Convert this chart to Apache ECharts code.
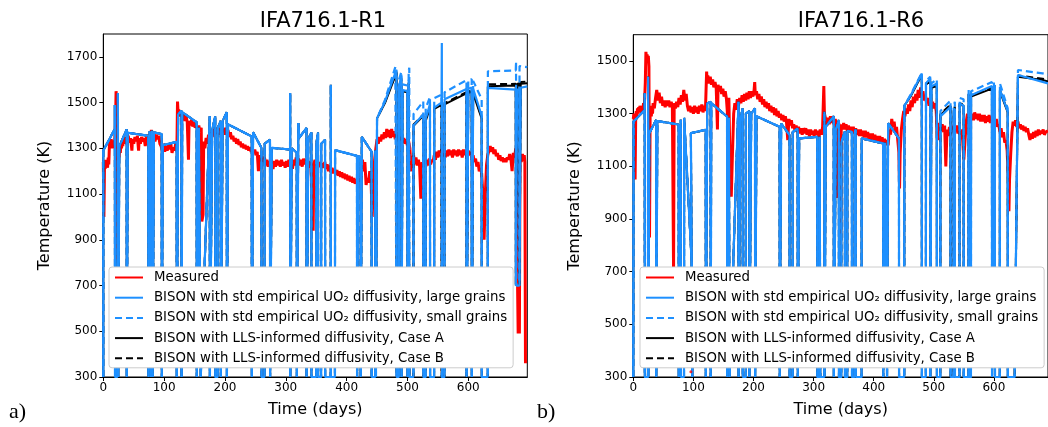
<!DOCTYPE html>
<html>
<head>
<meta charset="utf-8">
<script src="https://cdn.jsdelivr.net/npm/echarts@6/dist/echarts.min.js"></script>
<style>html,body{margin:0;padding:0;background:#fff}#c{width:1048px;height:427px}</style>
</head>
<body>
<div id="c"></div>
<script>
// ---------- tick labels ----------
const xTicks = [0,100,200,300,400,500,600];
const yTicksL = [300,500,700,900,1100,1300,1500,1700];
const yTicksR = [300,500,700,900,1100,1300,1500];
const titles = ['IFA716.1-R1','IFA716.1-R6'];
const names = ['Measured','BISON with std empirical UO\u2082 diffusivity, large grains','BISON with std empirical UO\u2082 diffusivity, small grains','BISON with LLS-informed diffusivity, Case A','BISON with LLS-informed diffusivity, Case B'];

// ---------- R1 measured [day, K] ----------
const measR1 = [[0,1240],[1,1000],[2,1230],[3,1210],[4,1250],[5,1220],[6,1245],[7,1215],[8,1260],[9,1230],[10,1310],[11,1330],[12,1300],[13,1340],[14,1310],[15,1330],[16,1300],[17,1335],[18,1320],[19,1340],[20,1400],[21,1550],[22,1500],[23,1540],[24,800],[25,1290],[26,1260],[27,1310],[28,1280],[29,1320],[30,1300],[31,1330],[32,1310],[33,1345],[35,1320],[37,1350],[39,1330],[41,1355],[43,1325],[45,1345],[47,1290],[48,1340],[50,1320],[52,1350],[54,1330],[56,1355],[58,1290],[59,1345],[61,1320],[63,1350],[65,1330],[67,1345],[69,1310],[71,1350],[73,1335],[75,1360],[77,1340],[79,1380],[81,1350],[83,1370],[85,1330],[87,1360],[89,1340],[91,1355],[93,1320],[95,1310],[97,1290],[99,1320],[101,1285],[103,1310],[105,1290],[107,1315],[109,1295],[111,1320],[113,1280],[115,1305],[117,1290],[119,1320],[121,1300],[122,1505],[123,1450],[124,1470],[126,1440],[128,1460],[130,1430],[132,1450],[134,1420],[136,1440],[138,1415],[140,1250],[141,1420],[143,1400],[145,1425],[147,1395],[149,1415],[151,1390],[153,1405],[155,1380],[157,1400],[159,1370],[161,1390],[162,980],[164,1010],[165,1330],[167,1300],[169,1345],[171,1320],[173,1360],[175,1340],[177,1370],[179,1350],[181,1385],[183,1360],[185,1390],[187,1365],[189,1385],[191,1360],[193,1390],[195,1365],[197,1385],[199,1360],[201,1390],[203,1365],[205,1380],[207,1350],[209,1370],[211,1340],[213,1355],[215,1330],[217,1345],[219,1320],[221,1340],[223,1315],[225,1330],[227,1305],[229,1320],[231,1300],[233,1315],[235,1295],[237,1310],[239,1290],[241,1305],[243,1285],[245,1300],[247,1280],[249,1295],[251,1270],[253,1285],[255,1200],[257,1270],[259,1245],[261,1265],[263,1240],[265,1260],[267,1225],[269,1250],[271,1220],[273,1245],[275,1215],[277,1240],[279,1210],[281,1245],[283,1220],[285,1250],[287,1225],[289,1245],[291,1220],[293,1250],[295,1225],[297,1240],[299,1215],[301,1245],[303,1220],[305,1250],[307,1225],[309,1245],[311,1210],[313,1250],[315,1225],[317,1260],[319,1230],[321,1255],[323,1225],[325,1250],[327,1220],[329,1255],[331,1230],[333,1250],[335,1220],[337,1245],[339,1215],[341,1240],[343,1100],[345,940],[346,1230],[348,1250],[350,1225],[352,1245],[354,1220],[356,1240],[358,1215],[360,1235],[362,1215],[364,1240],[366,1210],[368,1230],[370,1200],[372,1225],[374,1195],[376,1215],[378,1190],[380,1210],[382,1185],[384,1205],[386,1180],[388,1200],[390,1175],[392,1195],[394,1170],[396,1190],[398,1165],[400,1185],[402,1160],[404,1180],[406,1155],[408,1175],[410,1150],[412,1170],[414,1145],[416,1165],[418,1140],[420,1170],[422,1150],[424,1180],[426,1250],[428,1200],[430,1240],[432,1140],[434,1170],[436,1150],[438,1200],[440,1170],[442,1000],[444,1150],[446,1250],[448,1300],[450,1340],[452,1320],[454,1350],[456,1330],[458,1360],[460,1340],[462,1370],[464,1345],[466,1385],[468,1350],[470,1380],[472,1345],[474,1385],[476,1350],[478,1375],[480,1340],[482,1370],[484,1335],[486,1360],[488,1330],[490,1355],[492,1325],[494,1345],[496,1320],[498,1340],[500,1310],[502,1330],[504,1300],[506,1200],[508,1240],[510,1270],[512,1230],[514,1260],[516,1225],[518,1250],[520,1220],[522,1080],[524,1240],[526,1215],[528,1245],[530,1220],[532,1250],[534,1225],[536,1255],[538,1230],[540,1250],[542,1240],[544,1270],[546,1250],[548,1285],[550,1260],[552,1290],[554,1265],[556,1295],[558,1270],[560,1290],[562,1260],[564,1290],[566,1265],[568,1295],[570,1270],[572,1290],[574,1260],[576,1295],[578,1270],[580,1290],[582,1265],[584,1295],[586,1270],[588,1290],[590,1260],[592,1295],[594,1270],[596,1290],[598,1265],[600,1290],[602,1270],[604,1285],[606,1250],[608,1270],[610,1240],[612,1255],[614,1220],[616,1240],[618,1200],[620,1215],[622,1190],[624,1100],[626,900],[628,1100],[630,1230],[632,1270],[634,1290],[636,1310],[638,1285],[640,1305],[642,1275],[644,1295],[646,1265],[648,1280],[650,1250],[652,1270],[654,1245],[656,1260],[658,1240],[660,1255],[662,1240],[664,1260],[666,1250],[668,1275],[670,1255],[672,1200],[674,1280],[676,1260],[678,1300],[680,1270],[681,700],[682,490],[683,700],[684,490],[685,1270],[687,1240],[689,1275],[691,1245],[692,1270],[693,1240],[694,360]];

// ---------- R1 BISON (shared early history, then per-model late history) ----------
const bisonR1Early = [[0,300],[0,1290],[19,1385],[19,1490],[19.3,300],[23,300],[24,1542],[24.6,300],[26,300],[26.3,1308],[38.4,1383],[38.6,300],[40,300],[40.2,1368],[74,1355],[74.2,300],[76,300],[76.2,1375],[78,1372],[78.2,300],[80,300],[80.2,1378],[81,1375],[81.2,300],[83,300],[83.2,1370],[96,1362],[96.2,300],[97.6,300],[97.8,1314],[120.6,1328],[120.8,300],[122.8,300],[123,1449],[128.5,1464],[128.7,300],[129.5,300],[129.7,1458],[153.5,1414],[153.7,300],[156.8,300],[157,1390],[160,1385],[160.2,300],[163,300],[175,1440],[175.2,300],[178,300],[179,1380],[184,1440],[184.2,300],[188,300],[188.2,1390],[193,1420],[193.2,300],[196,300],[196.2,1420],[203,1458],[203.2,300],[204.8,300],[205,1405],[244,1352],[244.2,300],[246,300],[246.2,1370],[260,1302],[260.2,300],[265,300],[265.2,1320],[274,1338],[274.2,300],[276.8,300],[277,1302],[307,1295],[307.2,1542],[307.4,300],[309.5,300],[309.7,1300],[318,1281],[318.2,300],[320.4,300],[320.6,1411],[322,1346],[334,1389],[334.2,300],[336.8,300],[337,1340],[342,1370],[342.2,300],[350,300],[350.2,1320],[353,1370],[353.2,300],[358,300],[358.2,1320],[364.5,1337],[364.7,300],[373.8,300],[374,1578],[374.2,300],[380.8,300],[381,1292],[417,1267],[417.2,300],[419,300],[419.2,1265],[423,1262],[423.2,300],[424.8,300],[425,1350],[441,1285],[441.2,300],[447,300],[447.2,1290],[448,1285],[448.2,300],[449.8,300],[450,1431]];
const largeR1Late = [[463,1504],[482,1644],[482.2,300],[485.8,300],[486,1570],[490,1615],[490.2,300],[491.8,300],[492,1555],[500,1550],[500.2,300],[501.8,300],[502,1600],[503,1595],[503.2,300],[509.8,300],[510,1400],[526,1449],[526.2,300],[529.8,300],[530,1430],[537,1493],[537.2,300],[543.8,300],[544,1478],[556,1500],[556.5,1761],[557,300],[560.8,300],[561,1515],[597,1560],[597.2,300],[599.8,300],[600,1560],[605.6,1566],[605.8,300],[607.8,300],[608,1560],[622,1442],[622.2,300],[632,300],[632.2,1564],[678,1557],[678.2,700],[680,700],[680.2,1557],[684,1557],[684.2,700],[686,700],[686.2,1565],[697,1571]];
const smallR1Late = [[463,1512],[480,1655],[482,1650],[482.2,300],[485.8,300],[486,1600],[490,1635],[490.2,300],[491.8,300],[492,1580],[500,1575],[500.2,300],[501.8,300],[502,1640],[503,1652],[503.2,300],[509.8,300],[510,1450],[526,1505],[526.2,300],[529.8,300],[530,1475],[537,1525],[537.2,300],[543.8,300],[544,1520],[556,1535],[556.2,300],[560.8,300],[561,1545],[597,1598],[597.2,300],[599.8,300],[600,1600],[605.6,1602],[605.8,300],[607.8,300],[608,1595],[622,1515],[622.2,300],[632,300],[632.2,1637],[678,1640],[678.5,1680],[679,700],[684,700],[684.2,1660],[697,1655]];
const caseAR1Late = [[463,1498],[482,1630],[482.2,300],[485.8,300],[486,1560],[490,1600],[490.2,300],[491.8,300],[492,1550],[500,1545],[500.2,300],[501.8,300],[502,1585],[503,1580],[503.2,300],[509.8,300],[510,1398],[526,1442],[526.2,300],[529.8,300],[530,1420],[537,1478],[537.2,300],[543.8,300],[544,1472],[556,1490],[556.2,300],[560.8,300],[561,1492],[597,1540],[597.2,300],[599.8,300],[600,1542],[605.6,1548],[605.8,300],[607.8,300],[608,1540],[622,1430],[622.2,300],[632,300],[632.2,1572],[678,1575],[678.2,700],[680,700],[680.2,1575],[684,1578],[684.2,700],[686,700],[686.2,1582],[697,1585]];
const caseBR1Late = [[463,1502],[482,1636],[482.2,300],[485.8,300],[486,1566],[490,1606],[490.2,300],[491.8,300],[492,1556],[500,1551],[500.2,300],[501.8,300],[502,1590],[503,1586],[503.2,300],[509.8,300],[510,1404],[526,1448],[526.2,300],[529.8,300],[530,1426],[537,1484],[537.2,300],[543.8,300],[544,1478],[556,1496],[556.2,300],[560.8,300],[561,1498],[597,1546],[597.2,300],[599.8,300],[600,1548],[605.6,1554],[605.8,300],[607.8,300],[608,1546],[622,1436],[622.2,300],[632,300],[632.2,1580],[678,1582],[678.2,700],[680,700],[680.2,1582],[684,1585],[684.2,700],[686,700],[686.2,1590],[697,1592]];

// ---------- R6 measured ----------
const measR6 = [[0,1280],[1,1300],[2,1270],[3,1050],[4,1290],[5,1310],[6,1290],[7,1320],[8,1300],[9,1325],[10,1305],[11,1330],[12,1310],[13,1325],[14,1300],[15,1330],[16,1310],[17,1340],[18,1320],[19,1360],[20,1420],[21,1535],[22,1510],[23,1525],[24,1500],[25,1520],[26,1480],[27,830],[28,1300],[29,1320],[30,1290],[31,1330],[32,1300],[33,1340],[35,1320],[37,1360],[39,1390],[41,1350],[43,1380],[45,1340],[47,1365],[49,1330],[51,1350],[53,1325],[55,1350],[57,1330],[59,1350],[61,1325],[63,1345],[65,1330],[67,700],[68,1340],[70,1320],[72,1345],[74,1325],[76,1360],[78,1335],[80,1370],[82,1345],[84,1390],[86,1350],[88,1375],[90,1330],[92,1310],[94,1330],[96,1305],[98,1325],[100,1300],[102,1330],[104,1305],[106,1325],[108,1300],[110,1330],[112,1310],[114,1335],[116,1305],[118,1330],[120,1310],[122,1460],[123,1420],[124,1445],[126,1415],[128,1440],[130,1410],[132,1430],[134,1400],[136,1420],[138,1395],[140,1240],[141,1410],[143,1385],[145,1405],[147,1375],[149,1395],[151,1365],[153,1385],[155,1355],[157,1290],[159,1360],[161,1100],[163,985],[165,1150],[167,1300],[169,1340],[171,1315],[173,1355],[175,1330],[177,1360],[179,1340],[181,1370],[183,1345],[185,1375],[187,1350],[189,1380],[191,1355],[193,1385],[195,1360],[197,1385],[199,1365],[201,1390],[202,1420],[203,1370],[205,1385],[207,1355],[209,1375],[211,1345],[213,1365],[215,1335],[217,1355],[219,1325],[221,1345],[223,1320],[225,1340],[227,1310],[229,1330],[231,1305],[233,1325],[235,1295],[237,1320],[239,1290],[241,1310],[243,1285],[245,1300],[247,1275],[249,1295],[251,1270],[253,1290],[255,1265],[257,1200],[259,1280],[261,1255],[263,1275],[265,1245],[267,1260],[269,1235],[271,1255],[273,1230],[275,1250],[277,1225],[279,1245],[281,1220],[283,1245],[285,1225],[287,1245],[289,1220],[291,1240],[293,1215],[295,1240],[297,1220],[299,1235],[301,1215],[303,1240],[305,1220],[307,1235],[309,1210],[311,1240],[313,1220],[315,1250],[317,1405],[318,1300],[320,1280],[322,1255],[324,1285],[326,1260],[328,1290],[330,1265],[332,1285],[334,1260],[336,1280],[338,1255],[340,980],[341,1270],[343,1250],[345,820],[346,1260],[348,1240],[350,1265],[352,1240],[354,1260],[356,1235],[358,1255],[360,1230],[362,1250],[364,1225],[366,1250],[368,1225],[370,1245],[372,1220],[374,1240],[376,1215],[378,1240],[380,1215],[382,1235],[384,1210],[386,1235],[388,1210],[390,1230],[392,1205],[394,1225],[396,1200],[398,1225],[400,1200],[402,1220],[404,1195],[406,1215],[408,1190],[410,1215],[412,1190],[414,1210],[416,1185],[418,1205],[420,1180],[422,1200],[424,1180],[426,1240],[428,1220],[430,1280],[432,1250],[434,1270],[436,1230],[438,1250],[440,1200],[442,1150],[443,1016],[444,1150],[446,1240],[448,1280],[450,1310],[452,1290],[454,1320],[456,1300],[458,1335],[460,1310],[462,1350],[464,1325],[466,1365],[468,1340],[470,1375],[472,1350],[474,1390],[476,1360],[478,1400],[480,1365],[482,1385],[484,1350],[486,1370],[488,1340],[490,1360],[492,1330],[494,1355],[496,1325],[498,1345],[500,1320],[502,1340],[504,1310],[506,1200],[508,1240],[510,1265],[512,1235],[514,1260],[516,1230],[518,1255],[520,1100],[522,1240],[524,1215],[526,1250],[528,1225],[530,1255],[532,1230],[534,1260],[536,1235],[538,1255],[540,1225],[542,1250],[544,1220],[546,1240],[548,1200],[550,1125],[552,1200],[554,1270],[556,1300],[558,1280],[560,1305],[562,1280],[564,1300],[566,1275],[568,1305],[570,1280],[572,1300],[574,1275],[576,1300],[578,1270],[580,1295],[582,1270],[584,1295],[586,1265],[588,1290],[590,1270],[592,1295],[594,1265],[596,1290],[598,1265],[600,1285],[602,1260],[604,1280],[606,1250],[608,1260],[610,1230],[612,1245],[614,1210],[616,1230],[618,1190],[620,1200],[622,1160],[624,1050],[625,930],[626,1050],[628,1150],[630,1230],[632,1270],[634,1255],[636,1275],[638,1250],[640,1270],[642,1245],[644,1260],[646,1240],[648,1255],[650,1235],[652,1250],[654,1230],[656,1245],[658,1220],[660,1200],[662,1225],[664,1205],[666,1230],[668,1210],[670,1235],[672,1215],[674,1240],[676,1220],[678,1235],[680,1225],[682,1240],[684,1220],[686,1230],[688,1225],[690,1235]];
const measR6Dot = [[95.8,320]];

// ---------- R6 BISON ----------
const bisonR6Early = [[0,300],[0.5,1270],[19,1314],[19,1378],[19.2,300],[24.4,300],[24.6,1440],[25,300],[26.4,300],[26.6,1226],[38,1276],[38.2,300],[39.8,300],[40,1272],[75.5,1259],[75.7,300],[78.8,300],[79,1277],[79.2,300],[84.4,300],[84.6,1284],[98,700],[98.2,300],[95.6,300],[95.8,1226],[120.5,1239],[120.7,300],[122.8,300],[123,1339],[128.6,1345],[128.8,300],[129.5,300],[129.7,1340],[156,1289],[156.2,300],[158.8,300],[159,1285],[160,1283],[160.2,300],[163,300],[175,1345],[175.2,300],[178,300],[178.2,1280],[182,1320],[182.2,300],[187,300],[187.2,1300],[193,1310],[193.2,300],[196,300],[196.2,1300],[202.5,1320],[202.7,300],[204.8,300],[205,1290],[243.5,1250],[243.7,300],[245.8,300],[246,1262],[260,1219],[260.2,300],[265,300],[265.2,1230],[273.5,1244],[273.7,300],[275.8,300],[276,1206],[306,1212],[306.2,300],[309.8,300],[310,1212],[311,1210],[311.2,300],[317.8,300],[318,1307],[318.2,300],[320,300],[320.2,1250],[333.5,1291],[333.7,300],[336.8,300],[337,1240],[342,1276],[342.2,300],[346,300],[346.2,1190],[352,1233],[352.2,300],[356,300],[356.2,1235],[363.7,1230],[363.9,300],[368,300],[368.2,1225],[370,1240],[370.2,300],[379.8,300],[380,1206],[415.7,1187],[415.9,300],[418.8,300],[419,1190],[422,1185],[422.2,300],[423.8,300],[424,1264],[442,1206],[442.2,300],[450.8,300],[451,1330]];
const largeR6Late = [[462,1371],[480,1453],[480.2,300],[486.8,300],[487,1415],[494,1434],[494.2,300],[495.8,300],[496,1403],[505,1415],[505.2,300],[510.8,300],[511,1290],[527.8,1326],[528,300],[532.8,300],[533,1300],[535,1320],[535.2,300],[542.8,300],[543,1339],[549.6,1330],[549.8,300],[557.8,300],[558,1377],[558.2,300],[561.8,300],[562,1370],[596.7,1405],[596.9,300],[599.8,300],[600,1400],[601.6,1409],[601.8,300],[609.8,300],[610,1390],[623,1308],[623.2,300],[634.5,300],[640,1447],[681,1421],[690,1415]];
const smallR6Late = [[462,1375],[480,1455],[480.2,300],[486.8,300],[487,1425],[494,1440],[494.2,300],[495.8,300],[496,1415],[505,1430],[505.2,300],[510.8,300],[511,1310],[527.8,1350],[528,300],[532.8,300],[533,1330],[535,1345],[535.2,300],[542.8,300],[543,1360],[549.6,1355],[549.8,300],[557.8,300],[558,1390],[558.2,300],[561.8,300],[562,1385],[596.7,1420],[596.9,300],[599.8,300],[600,1418],[601.6,1425],[601.8,300],[609.8,300],[610,1415],[623,1320],[623.2,300],[634.5,300],[640,1466],[681,1453],[690,1448]];
const caseAR6Late = [[462,1368],[480,1448],[480.2,300],[486.8,300],[487,1410],[494,1425],[494.2,300],[495.8,300],[496,1398],[505,1405],[505.2,300],[510.8,300],[511,1295],[527.8,1330],[528,300],[532.8,300],[533,1305],[535,1322],[535.2,300],[542.8,300],[543,1335],[549.6,1330],[549.8,300],[557.8,300],[558,1375],[558.2,300],[561.8,300],[562,1365],[596.7,1395],[596.9,300],[599.8,300],[600,1395],[601.6,1400],[601.8,300],[609.8,300],[610,1385],[623,1305],[623.2,300],[634.5,300],[640,1440],[681,1428],[690,1422]];
const caseBR6Late = [[462,1370],[480,1451],[480.2,300],[486.8,300],[487,1414],[494,1429],[494.2,300],[495.8,300],[496,1402],[505,1409],[505.2,300],[510.8,300],[511,1299],[527.8,1335],[528,300],[532.8,300],[533,1309],[535,1327],[535.2,300],[542.8,300],[543,1340],[549.6,1335],[549.8,300],[557.8,300],[558,1380],[558.2,300],[561.8,300],[562,1370],[596.7,1400],[596.9,300],[599.8,300],[600,1400],[601.6,1405],[601.8,300],[609.8,300],[610,1390],[623,1309],[623.2,300],[634.5,300],[640,1445],[681,1433],[690,1427]];

// ---------- build ----------
const F = 'DejaVu Sans';
const BLUE = '#1E90FF';
function seriesFor(idx, meas, early, large, small, cA, cB, dot) {
  const base = {type:'line', xAxisIndex:idx, yAxisIndex:idx, showSymbol:false, symbol:'none', animation:false, clip:true};
  const arr = [
    Object.assign({}, base, {name:names[0], data:meas, lineStyle:{color:'#ff0000', width:3}, itemStyle:{color:'#ff0000'}, z:1}),
    Object.assign({}, base, {name:names[3], data:early.concat(cA), lineStyle:{color:'#000', width:2}, itemStyle:{color:'#000'}, z:2}),
    Object.assign({}, base, {name:names[4], data:early.concat(cB), lineStyle:{color:'#000', width:2, type:[7,4]}, itemStyle:{color:'#000'}, z:3}),
    Object.assign({}, base, {name:names[1], data:early.concat(large), lineStyle:{color:BLUE, width:2.2}, itemStyle:{color:BLUE}, z:4}),
    Object.assign({}, base, {name:names[2], data:early.concat(small), lineStyle:{color:BLUE, width:2.2, type:[7,4]}, itemStyle:{color:BLUE}, z:5})
  ];
  if (dot) arr.push({type:'scatter', name:names[0], xAxisIndex:idx, yAxisIndex:idx, data:dot, symbolSize:3, itemStyle:{color:'#ff0000'}, z:6});
  return arr;
}
const axisText = {fontFamily:F, fontSize:12, color:'#000', formatter: v => String(v)};
function xAx(idx, max) {
  return {type:'value', gridIndex:idx, min:0, max:max, name:'Time (days)', nameLocation:'middle', nameGap:25,
    nameTextStyle:{fontFamily:F, fontSize:16, color:'#000'},
    axisLine:{show:true, lineStyle:{color:'#000', width:1}},
    axisTick:{show:true, length:4, customValues:xTicks, lineStyle:{color:'#000'}},
    axisLabel:Object.assign({customValues:xTicks, margin:5}, axisText),
    splitLine:{show:false}};
}
function yAx(idx, max, ticks) {
  return {type:'value', gridIndex:idx, min:300, max:max, name:'Temperature (K)', nameLocation:'middle', nameGap:50,
    nameTextStyle:{fontFamily:F, fontSize:16, color:'#000'},
    axisLine:{show:true, lineStyle:{color:'#000', width:1}},
    axisTick:{show:true, length:4, customValues:ticks, lineStyle:{color:'#000'}},
    axisLabel:Object.assign({customValues:ticks, margin:6}, axisText),
    splitLine:{show:false}};
}
function legendAt(left) {
  return {left:left, top:267, orient:'vertical', z:50, zlevel:0, data:[names[0],names[1],names[2],names[3],names[4]],
    itemWidth:28, itemHeight:14, itemGap:7.2, padding:[4,6,3,5],
    backgroundColor:'#ffffff', borderColor:'#cccccc', borderWidth:1, borderRadius:3,
    selectedMode:false,
    itemStyle:{color:'rgba(0,0,0,0)', borderColor:'rgba(0,0,0,0)', borderWidth:0, opacity:0},
    textStyle:{fontFamily:F, fontSize:13.3, color:'#000', padding:[0,0,0,6]}};
}
const option = {
  animation:false,
  backgroundColor:'#fff',
  title:[
    {text:titles[0], left:318, top:6, textAlign:'center', textStyle:{fontFamily:F, fontSize:21, fontWeight:'normal', color:'#000'}},
    {text:titles[1], left:856, top:6, textAlign:'center', textStyle:{fontFamily:F, fontSize:21, fontWeight:'normal', color:'#000'}}
  ],
  grid:[
    {left:103.3, top:34, width:424, height:343, show:true, borderColor:'#000', borderWidth:1, backgroundColor:'transparent'},
    {left:633.3, top:34.7, width:420.6, height:342.3, show:true, borderColor:'#000', borderWidth:1, backgroundColor:'transparent'}
  ],
  xAxis:[xAx(0, 697), xAx(1, 690)],
  yAxis:[yAx(0, 1800, yTicksL), yAx(1, 1600, yTicksR)],
  legend:[legendAt(109), legendAt(640)],
  series: seriesFor(0, measR1, bisonR1Early, largeR1Late, smallR1Late, caseAR1Late, caseBR1Late, null)
    .concat(seriesFor(1, measR6, bisonR6Early, largeR6Late, smallR6Late, caseAR6Late, caseBR6Late, measR6Dot)),
  graphic:[
    {type:'text', left:9, top:401, style:{text:'a)', font:'22px "Liberation Serif"', fill:'#000'}},
    {type:'text', left:537, top:401, style:{text:'b)', font:'22px "Liberation Serif"', fill:'#000'}}
  ]
};
const chart = echarts.init(document.getElementById('c'), null, {renderer:'canvas'});
chart.setOption(option);
</script>
</body>
</html>
